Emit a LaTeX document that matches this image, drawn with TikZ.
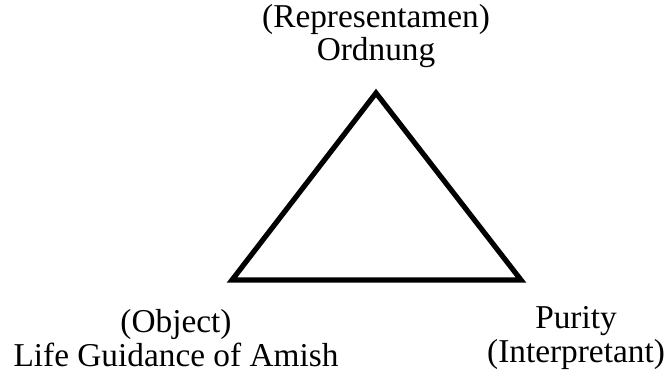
\documentclass[tikz,border=0pt]{standalone}
\usepackage{fontspec}
\setmainfont{Liberation Serif}
\begin{document}
\begin{tikzpicture}[x=0.75pt,y=-0.75pt,
  lbl/.style={align=center,font=\fontsize{25}{25}\selectfont,inner sep=0pt}]
\useasboundingbox (0,0) rectangle (666,374);
\coordinate (A) at (376,93);
\coordinate (B) at (232,280);
\coordinate (C) at (521,280);
\draw[line width=3.9pt,line join=miter] (A) -- (B) -- (C) -- cycle;
\node[lbl] (rep) at (376,36) {(Representamen)\\Ordnung};
\node[lbl] (obj) at (176,338) {(Object)\\Life Guidance of Amish};
\node[lbl] (int) at (576,338) {Purity\\(Interpretant)};
\end{tikzpicture}
\end{document}
